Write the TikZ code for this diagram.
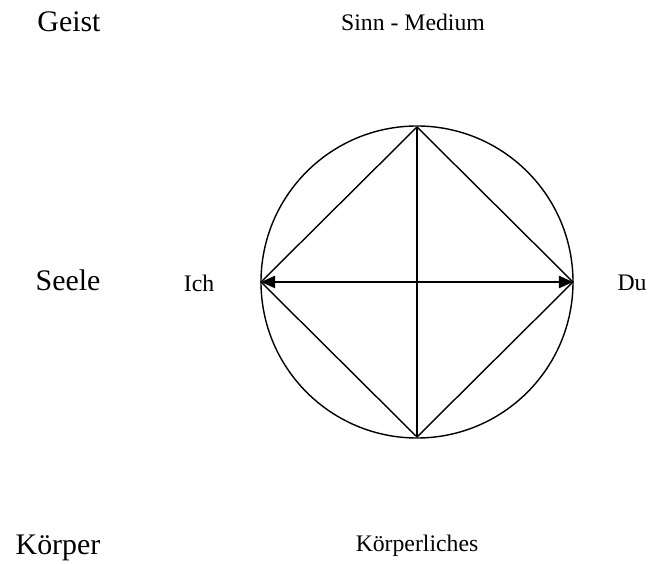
\documentclass[tikz,border=0pt]{standalone}
\usepackage{fontspec}
\setmainfont{Liberation Serif}
\usetikzlibrary{arrows.meta}
\begin{document}
\begin{tikzpicture}[
    x=0.02cm,y=-0.02cm,
    bigLabel/.style={font=\fontsize{17}{20}\selectfont,inner sep=0pt},
    smallLabel/.style={font=\fontsize{13.5}{16}\selectfont,inner sep=0pt},
    thinLine/.style={line width=0.8pt,color=black},
    twoArrow/.style={<->,>={Triangle[length=8pt,width=7pt]},line width=0.8pt},
]
\useasboundingbox (0,0) rectangle (650,564);
% Ebenen links
\node[bigLabel] (GEIST) at (69,22) {Geist};
\node[bigLabel] (SEELE) at (68,280) {Seele};
\node[bigLabel] (KOERPER) at (58,548) {Körper};
% Beschriftung
\node[smallLabel] (SINN) at (413,22) {Sinn - Medium};
\node[smallLabel] (KL) at (417,546) {Körperliches};
\node[smallLabel] (ICH) at (199,283) {Ich};
\node[smallLabel] (DU) at (632,283) {Du};
% Kreis und Raute
\coordinate (M) at (417,282);
\coordinate (LINKS) at (261,282);
\coordinate (RECHTS) at (573,282);
\coordinate (OBEN) at (417,127);
\coordinate (UNTEN) at (417,437);
\draw[thinLine] (M) circle[radius=156];
\draw[thinLine] (LINKS) -- (OBEN) -- (RECHTS) -- (UNTEN) -- cycle;
\draw[thinLine] (OBEN) -- (UNTEN);
\draw[twoArrow] (LINKS) -- (RECHTS);
\end{tikzpicture}
\end{document}
